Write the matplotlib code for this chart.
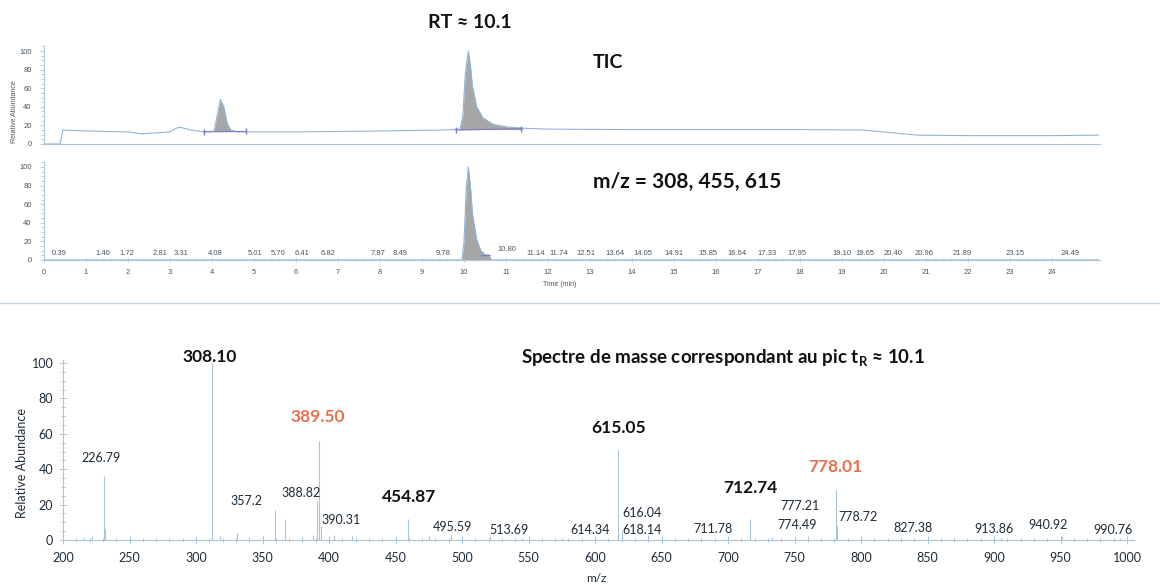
import matplotlib
matplotlib.use('Agg')
import matplotlib.pyplot as plt
from matplotlib.lines import Line2D
from matplotlib.ticker import MultipleLocator

plt.rcParams['font.family'] = ['Lato', 'DejaVu Sans']
plt.rcParams['mathtext.fontset'] = 'custom'
plt.rcParams['mathtext.bf'] = 'Lato:bold'
plt.rcParams['mathtext.rm'] = 'Lato'

# ---------------- data ----------------
# TIC trace (time in min, relative abundance)
tic_time = [0.0, 0.38, 0.45, 1.0, 1.5, 2.0, 2.3, 2.7, 3.0, 3.15, 3.25, 3.5, 3.8,
            4.05, 4.12, 4.2, 4.28, 4.36, 4.45, 4.6, 6.0, 8.0, 9.5, 9.9, 9.97,
            10.03, 10.1, 10.15, 10.2, 10.3, 10.45, 10.7, 11.0, 11.4, 12.0, 14.0,
            16.0, 18.0, 19.5, 20.2, 20.8, 22.0, 24.0, 25.1]
tic_abund = [0, 0, 15, 14, 13.5, 13, 11, 12, 13, 17, 18, 15, 13,
             14, 30, 48, 40, 22, 15, 13, 13, 14, 15, 16, 30,
             75, 100, 85, 62, 40, 28, 21, 18.5, 17, 16, 15.5,
             15.5, 15.5, 15, 12, 9.5, 9, 9, 9.5]
tic_peaks = [(4.05, 4.5, 13.5), (9.9, 11.4, 15.5)]      # integrated ranges, baseline
tic_baselines = [(3.8, 4.8, 13.0, 13.5), (9.8, 11.35, 15.0, 16.5)]

# extracted ion chromatogram m/z = 308, 455, 615
xic_time = [0, 9.95, 10.0, 10.05, 10.1, 10.15, 10.2, 10.3, 10.4, 10.5, 10.6, 10.65, 25.1]
xic_abund = [0, 0, 20, 75, 100, 80, 50, 22, 10, 6, 5, 0, 0]

rt_labels = ['0.39', '1.40', '1.72', '2.81', '3.31', '4.08', '5.01', '5.70', '6.41',
             '6.82', '7.87', '8.49', '9.78', '10.80', '11.14', '11.74', '12.51',
             '13.64', '14.05', '14.91', '15.85', '16.64', '17.33', '17.95', '19.10',
             '19.65', '20.40', '20.96', '21.89', '23.15', '24.49']
rt_label_x = [0.36, 1.40, 1.98, 2.76, 3.27, 4.07, 5.02, 5.58, 6.14, 6.76, 7.95, 8.48,
              9.49, 11.03, 11.71, 12.25, 12.9, 13.6, 14.26, 15.0, 15.8, 16.51, 17.21,
              17.92, 19.0, 19.55, 20.21, 20.94, 21.85, 23.12, 24.44]

# mass spectrum at tR ~ 10.1 (positions as drawn on the m/z axis)
spec_mz = [216, 222, 230.5, 231.5, 311.7, 318, 330.5, 340, 350, 359.7, 367, 380,
           388, 391.0, 392.5, 394, 404, 417, 459.2, 475, 491.5, 520.8, 545, 575,
           600, 617.6, 620, 640, 680, 716.8, 733, 760, 781.2, 782.2, 800, 830,
           870, 905, 951, 980, 995]
spec_int = [1.5, 2, 36, 6, 100, 2, 4, 1.5, 2, 17, 12, 2,
            3, 22, 56, 8, 3, 2, 12, 2, 3, 2, 1, 1,
            1, 51, 5, 3, 1, 12, 1.5, 2, 28, 8, 1.5, 1,
            1, 1, 2.5, 1, 1]

# peak annotations: text, m/z position, height, style
spec_labels = [
    ('308.10', 310.5, 103.4, 'bold'), ('226.79', 228.6, 46.3, 'normal'),
    ('389.50', 391.7, 69.5, 'red'), ('357.2', 338.3, 22.0, 'normal'),
    ('388.82', 379.0, 26.6, 'normal'), ('390.31', 409.0, 11.3, 'normal'),
    ('454.87', 460.0, 24.3, 'bold'), ('495.59', 493.0, 7.3, 'normal'),
    ('513.69', 535.0, 5.6, 'normal'), ('614.34', 596.0, 5.6, 'normal'),
    ('615.05', 618.0, 63.3, 'bold'), ('616.04', 635.3, 15.3, 'normal'),
    ('618.14', 635.3, 5.6, 'normal'), ('711.78', 688.7, 6.2, 'normal'),
    ('712.74', 716.5, 29.4, 'bold'), ('777.21', 754.0, 19.2, 'normal'),
    ('774.49', 752.0, 8.5, 'normal'), ('778.01', 780.5, 41.2, 'red'),
    ('778.72', 797.7, 13.0, 'normal'), ('827.38', 839.0, 6.8, 'normal'),
    ('913.86', 900.0, 6.2, 'normal'), ('940.92', 940.6, 8.5, 'normal'),
    ('990.76', 989.5, 5.6, 'normal'),
]

# ---------------- styling ----------------
W, H = 1160, 585
SPINE = '#a9c6de'
TRACE = '#8fb4d8'
BAR = '#a8c4dc'
FILL = '#a6a6a6'
PURPLE = '#7a7ad0'
SMALL = ['Liberation Sans', 'DejaVu Sans']
DARK = '#1e2b38'
RED = '#e8704a'


def box(left, top, right, bottom):
    """Pixel box -> figure fraction [l, b, w, h]."""
    return [left / W, 1 - bottom / H, (right - left) / W, (bottom - top) / H]


def fx(x, y):
    return x / W, 1 - y / H


def style_chrom_axis(ax, show_x):
    ax.set_xlim(0, 25.14)
    ax.set_ylim(0, 105)
    for s in ('top', 'right'):
        ax.spines[s].set_visible(False)
    for s in ('left', 'bottom'):
        ax.spines[s].set_color(SPINE)
        ax.spines[s].set_linewidth(0.8)
    ax.set_yticks(range(0, 101, 20))
    ax.yaxis.set_minor_locator(MultipleLocator(5))
    ax.tick_params(axis='y', which='both', colors=SPINE, labelcolor='#4a5560',
                   labelsize=5.5, length=3, width=0.6, pad=6)
    ax.tick_params(axis='y', which='minor', length=2)
    if show_x:
        ax.set_xticks(range(0, 25))
        ax.xaxis.set_minor_locator(MultipleLocator(0.2))
        ax.tick_params(axis='x', which='both', colors=SPINE, labelcolor='#4a5560',
                       labelsize=5.5, length=3, width=0.6, direction='inout', pad=5)
        ax.tick_params(axis='x', which='minor', length=2)
    else:
        ax.set_xticks([])
    for lab in ax.get_xticklabels() + ax.get_yticklabels():
        lab.set_family(SMALL)


fig = plt.figure(figsize=(W / 100, H / 100), dpi=100)

# ---- TIC ----
ax1 = fig.add_axes(box(44, 46.35, 1100, 144))
style_chrom_axis(ax1, False)
ax1.plot(tic_time, tic_abund, color=TRACE, lw=0.8, clip_on=False)
for t0, t1, base in tic_peaks:
    xs = [t for t in tic_time if t0 <= t <= t1]
    ys = [a for t, a in zip(tic_time, tic_abund) if t0 <= t <= t1]
    ax1.fill_between(xs, base, ys, color=FILL, lw=0)
for t0, t1, b0, b1 in tic_baselines:
    ax1.plot([t0, t1], [b0, b1], color=PURPLE, lw=0.8, marker='|', ms=5)

# ---- XIC ----
ax2 = fig.add_axes(box(44, 162.35, 1100, 260))
style_chrom_axis(ax2, True)
ax2.plot(xic_time, xic_abund, color=TRACE, lw=0.8)
ax2.fill_between(xic_time, 0, xic_abund, color=FILL, lw=0)
ax2.plot([10.4, 10.62], [4.5, 5], color=PURPLE, lw=0.8)
for lab, x in zip(rt_labels, rt_label_x):
    y = 10.8 if lab == '10.80' else 6.5
    ax2.text(x, y, lab, ha='center', va='center', fontsize=5.5,
             family=SMALL, color='#4a5560')

# ---- mass spectrum ----
ax3 = fig.add_axes(box(63, 359.5, 1133.7, 540))
ax3.set_xlim(200, 1005)
ax3.set_ylim(0, 102)
for s in ('top', 'right'):
    ax3.spines[s].set_visible(False)
for s in ('left', 'bottom'):
    ax3.spines[s].set_color(SPINE)
    ax3.spines[s].set_linewidth(0.8)
ax3.vlines(spec_mz, 0, spec_int, color=BAR, lw=0.8)
ax3.set_xticks(range(200, 1001, 50))
ax3.xaxis.set_minor_locator(MultipleLocator(10))
ax3.set_yticks(range(0, 101, 20))
ax3.yaxis.set_minor_locator(MultipleLocator(5))
ax3.tick_params(which='both', colors=SPINE, labelcolor=DARK, labelsize=9,
                width=0.7, direction='inout')
ax3.tick_params(which='major', length=6)
ax3.tick_params(which='minor', length=3)
ax3.tick_params(axis='x', pad=6)
ax3.tick_params(axis='y', pad=4)
for lab, x, y, kind in spec_labels:
    if kind == 'normal':
        ax3.text(x, y, lab, ha='center', va='center', fontsize=9, color=DARK)
    else:
        ax3.text(x, y, lab, ha='center', va='center', fontsize=12.5,
                 fontweight='bold', color=RED if kind == 'red' else '#111111')

# ---- free text ----
fig.text(*fx(470, 22), 'RT ≈ 10.1', ha='center', va='center', fontsize=14,
         fontweight='bold', color='#111111')
fig.text(*fx(608, 62), 'TIC', ha='center', va='center', fontsize=14,
         fontweight='bold', color='#111111')
fig.text(*fx(687, 182), 'm/z = 308, 455, 615', ha='center', va='center',
         fontsize=15, fontweight='bold', color='#111111')
fig.text(*fx(560, 285), 'Time (min)', ha='center', va='center', fontsize=5,
         family=SMALL, color='#4a5560')
fig.text(*fx(15, 112), 'Relative Abundance', ha='center', va='center',
         rotation=90, fontsize=5, family=SMALL, color='#4a5560')
fig.text(*fx(22, 463), 'Relative Abundance', ha='center', va='center',
         rotation=90, fontsize=9, color=DARK)
fig.text(*fx(596, 578), 'm/z', ha='center', va='center', fontsize=8.5, color=DARK)
fig.text(*fx(723, 358), r'Spectre de masse correspondant au pic t$_{\mathbf{R}}$ ≈ 10.1',
         ha='center', va='center', fontsize=13.5, fontweight='bold', color='#111111')

# separator between chromatograms and spectrum
fig.add_artist(Line2D([0, 1], [1 - 303 / H] * 2, transform=fig.transFigure,
                      color='#c5d9ea', lw=1))

fig.savefig('out.png', dpi=100)
